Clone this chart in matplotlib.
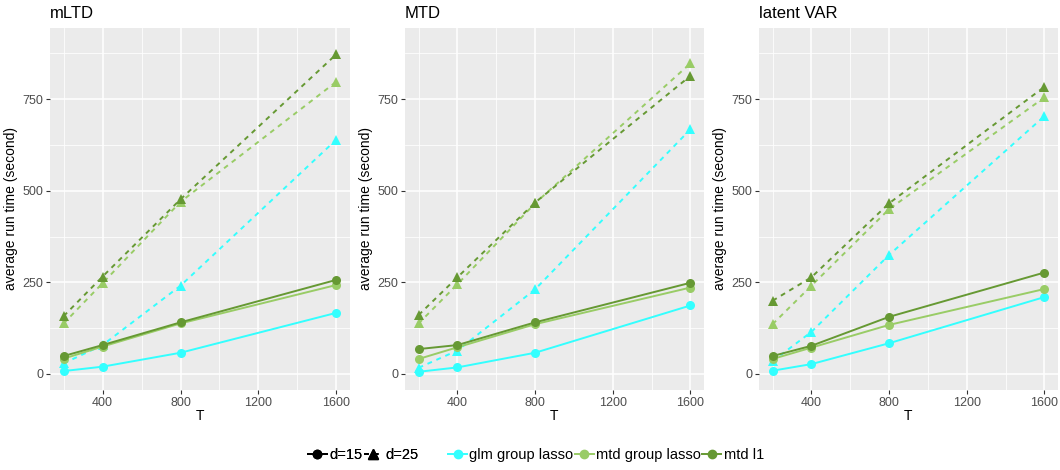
import matplotlib
matplotlib.use("Agg")
import matplotlib.pyplot as plt
from matplotlib.lines import Line2D

plt.rcParams['font.family'] = ['Liberation Sans', 'DejaVu Sans']

T = [200, 400, 800, 1600]
panels = ["mLTD", "MTD", "latent VAR"]
methods = ["glm group lasso", "mtd group lasso", "mtd l1"]
colors = {"glm group lasso": "#33FFFF", "mtd group lasso": "#99CC66", "mtd l1": "#669933"}

# d = 15 (solid, circles)
mltd_d15_glm = [8, 20, 58, 167]
mltd_d15_mgl = [42, 75, 138, 243]
mltd_d15_ml1 = [49, 79, 141, 257]
# d = 25 (dashed, triangles)
mltd_d25_glm = [29, 79, 241, 640]
mltd_d25_mgl = [138, 248, 470, 798]
mltd_d25_ml1 = [158, 266, 477, 873]

mtd_d15_glm = [6, 18, 58, 187]
mtd_d15_mgl = [41, 73, 136, 236]
mtd_d15_ml1 = [68, 79, 141, 249]
mtd_d25_glm = [17, 64, 231, 668]
mtd_d25_mgl = [138, 245, 466, 848]
mtd_d25_ml1 = [161, 264, 468, 814]

lvar_d15_glm = [9, 27, 84, 210]
lvar_d15_mgl = [41, 72, 134, 232]
lvar_d15_ml1 = [49, 77, 156, 277]
lvar_d25_glm = [35, 115, 325, 704]
lvar_d25_mgl = [136, 241, 450, 755]
lvar_d25_ml1 = [200, 264, 466, 784]

data = {
    "mLTD": {15: [mltd_d15_glm, mltd_d15_mgl, mltd_d15_ml1], 25: [mltd_d25_glm, mltd_d25_mgl, mltd_d25_ml1]},
    "MTD": {15: [mtd_d15_glm, mtd_d15_mgl, mtd_d15_ml1], 25: [mtd_d25_glm, mtd_d25_mgl, mtd_d25_ml1]},
    "latent VAR": {15: [lvar_d15_glm, lvar_d15_mgl, lvar_d15_ml1], 25: [lvar_d25_glm, lvar_d25_mgl, lvar_d25_ml1]},
}

W, H = 1060, 470
fig = plt.figure(figsize=(W / 100, H / 100), dpi=100)
lefts = [(50, 350), (405, 704), (759, 1058)]
top_px, bot_px = 28, 390

for (l, r), name in zip(lefts, panels):
    ax = fig.add_axes([l / W, 1 - bot_px / H, (r - l) / W, (bot_px - top_px) / H])
    ax.set_facecolor("#EBEBEB")
    for s in ax.spines.values():
        s.set_visible(False)
    ax.set_xlim(130, 1670)
    ax.set_ylim(-43.7, 944.6)
    ax.set_xticks([400, 800, 1200, 1600])
    ax.set_yticks([0, 250, 500, 750])
    ax.set_xticks([200, 600, 1000, 1400], minor=True)
    ax.set_yticks([125, 375, 625, 875], minor=True)
    ax.grid(which="major", color="white", lw=1.1)
    ax.grid(which="minor", color="white", lw=0.55)
    ax.set_axisbelow(True)
    ax.tick_params(which="major", length=3, width=0.8, color="#333333", labelcolor="#4D4D4D", labelsize=9, pad=2)
    ax.tick_params(which="minor", length=0)
    ax.set_xlabel("T", fontsize=10, labelpad=0)
    ax.set_ylabel("average run time (second)", fontsize=10, labelpad=3)
    ax.set_title(name, loc="left", fontsize=12, pad=7)
    for d, ls, mk in [(25, (0, (2.5, 2.5)), "^"), (15, "-", "o")]:
        for m, vals in zip(methods, data[name][d]):
            ax.plot(T, vals, color=colors[m], linestyle=ls, lw=1.4, marker=mk,
                    markersize=7.5 if mk == "^" else 6.5, markeredgewidth=0)

h1 = [Line2D([], [], color="black", lw=1.4, marker="o", markersize=6, linestyle="-"),
      Line2D([], [], color="black", lw=1.4, marker="^", markersize=6.5, linestyle=(0, (2.5, 2.5)))]
leg1 = fig.legend(h1, ["d=15", "d=25"], loc="center", bbox_to_anchor=(363 / W, 1 - 455 / H),
                  ncol=2, frameon=False, fontsize=10.5, handlelength=1.3, handletextpad=0.15,
                  columnspacing=0.1)
h2 = [Line2D([], [], color=colors[m], lw=1.4, marker="o", markersize=6, linestyle="-") for m in methods]
leg2 = fig.legend(h2, methods, loc="center", bbox_to_anchor=(606 / W, 1 - 455 / H),
                  ncol=3, frameon=False, fontsize=10.5, handlelength=1.3, handletextpad=0.15,
                  columnspacing=0.1)
fig.add_artist(leg1)

fig.savefig("out.png", dpi=100)
